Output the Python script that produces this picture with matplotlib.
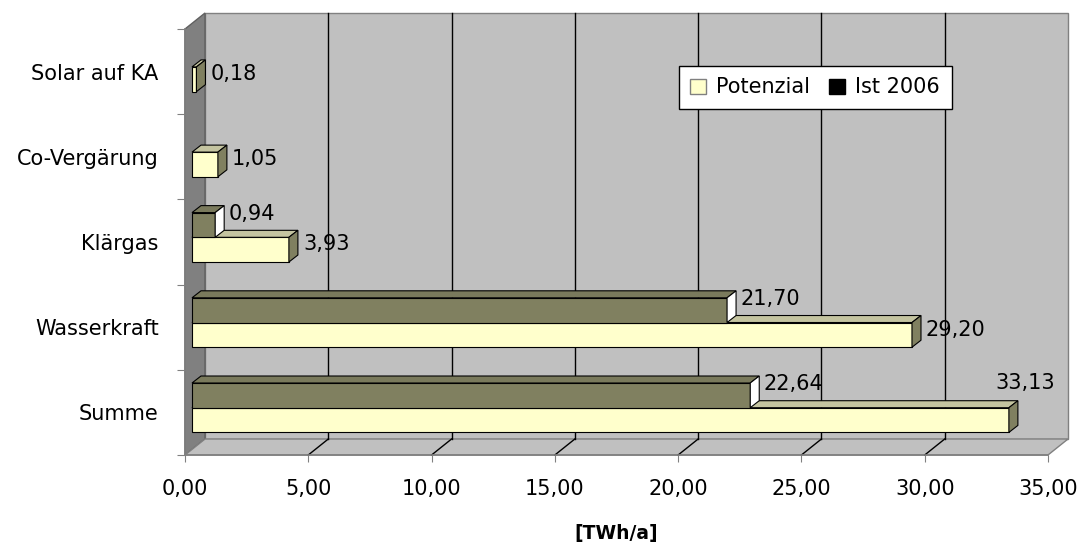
import matplotlib.pyplot as plt
from matplotlib.patches import Polygon, Patch

categories = ["Summe", "Wasserkraft", "Klärgas", "Co-Vergärung", "Solar auf KA"]
potenzial = [33.13, 29.20, 3.93, 1.05, 0.18]
ist_2006 = [22.64, 21.70, 0.94, 0.0, 0.0]
xticks = [0, 5, 10, 15, 20, 25, 30, 35]

W, H = 1078, 545
fig = plt.figure(figsize=(W / 100, H / 100), dpi=100, facecolor="white")
plt.rcParams["font.family"] = ["DejaVu Sans"]
FS = 15

# front plane of the chart in pixels: x 185..1048, y 29..455
ax = fig.add_axes([185 / W, 90 / H, 863 / W, 426 / H])
ax.set_xlim(0, 35)
ax.set_ylim(0, 5)
ax.patch.set_visible(False)

px = 35 / 863   # data units per pixel, x
py = 5 / 426    # data units per pixel, y
DX, DY = 20 * px, 16 * py          # wall depth
BX = 7 * px                        # bar front offset
ddx, ddy = 9 * px, 7 * py          # bar depth
bh = 0.29
pot_y0 = 0.265

def poly(pts, fc, ec, lw=0.8, z=1):
    p = Polygon(pts, closed=True, facecolor=fc, edgecolor=ec, linewidth=lw,
                zorder=z, clip_on=False, joinstyle="miter")
    ax.add_patch(p)

# walls
poly([(DX, DY), (35 + DX, DY), (35 + DX, 5 + DY), (DX, 5 + DY)], "#c0c0c0", "#808080", 1, 0.5)
poly([(0, 0), (DX, DY), (DX, 5 + DY), (0, 5)], "#808080", "#606060", 1, 0.5)
poly([(0, 0), (35, 0), (35 + DX, DY), (DX, DY)], "#c0c0c0", "#808080", 1, 0.5)
for t in xticks[1:-1]:
    ax.plot([t + DX, t + DX], [DY, 5 + DY], color="black", lw=1, zorder=0.6, clip_on=False)
    ax.plot([t, t + DX], [0, DY], color="black", lw=1, zorder=0.6, clip_on=False)

def bar3d(v, y0, front, top, side):
    x0, x1, y1 = BX, BX + v, y0 + bh
    poly([(x0, y0), (x1, y0), (x1, y1), (x0, y1)], front, "black", 0.8, 2)
    poly([(x0, y1), (x1, y1), (x1 + ddx, y1 + ddy), (x0 + ddx, y1 + ddy)], top, "black", 0.8, 2)
    poly([(x1, y0), (x1 + ddx, y0 + ddy), (x1 + ddx, y1 + ddy), (x1, y1)], side, "black", 0.8, 2)

def fmt(v):
    return f"{v:.2f}".replace(".", ",")

for i in range(len(categories)):
    p, s = potenzial[i], ist_2006[i]
    y_pot = i + pot_y0
    y_ist = y_pot + bh
    bar3d(p, y_pot, "#ffffcc", "#c4c4a0", "#808060")
    if s > 0:
        bar3d(s, y_ist, "#808060", "#7a7a5c", "#ffffff")
        ax.text(BX + s + 13 * px, y_ist + bh - 1 * py, fmt(s), fontsize=FS,
                ha="left", va="center", zorder=5)
    xr = BX + p + 14 * px
    if xr + 60 * px > 35 + DX:
        ax.text(BX + p + 16 * px, y_pot + bh + 25 * py, fmt(p), fontsize=FS,
                ha="center", va="center", zorder=5)
    else:
        ax.text(xr, y_pot + bh - 7 * py, fmt(p), fontsize=FS,
                ha="left", va="center", zorder=5)

# axes
for side in ["top", "right"]:
    ax.spines[side].set_visible(False)
for side in ["bottom", "left"]:
    ax.spines[side].set_color("#808080")
    ax.spines[side].set_linewidth(1.2)
    ax.spines[side].set_zorder(0.7)

ax.set_xticks(xticks)
ax.set_xticklabels([fmt(t) for t in xticks], fontsize=FS)
ax.tick_params(axis="x", length=5, color="#808080", pad=12)
ax.set_yticks(range(6))
ax.set_yticklabels([])
ax.tick_params(axis="y", which="major", length=6, color="#808080")
ax.set_yticks([i + 0.5 for i in range(len(categories))], minor=True)
ax.set_yticklabels(categories, minor=True, fontsize=FS)
ax.tick_params(axis="y", which="minor", length=0, pad=19)
ax.set_xlabel("[TWh/a]", fontsize=13.5, fontweight="bold", labelpad=18)

handles = [Patch(facecolor="#ffffcc", edgecolor="#808080", label="Potenzial"),
           Patch(facecolor="black", edgecolor="black", label="Ist 2006")]
leg = fig.legend(handles=handles, loc="upper left", bbox_to_anchor=(679 / W, 1 - 66 / H),
                 ncol=2, fontsize=FS, frameon=True, fancybox=False, shadow=False,
                 edgecolor="black", framealpha=1, handlelength=0.75, handleheight=0.75,
                 handletextpad=0.5, columnspacing=0.9, borderpad=0.55, borderaxespad=0)
leg.get_frame().set_linewidth(1)

fig.savefig("out.png", dpi=100, facecolor="white")
